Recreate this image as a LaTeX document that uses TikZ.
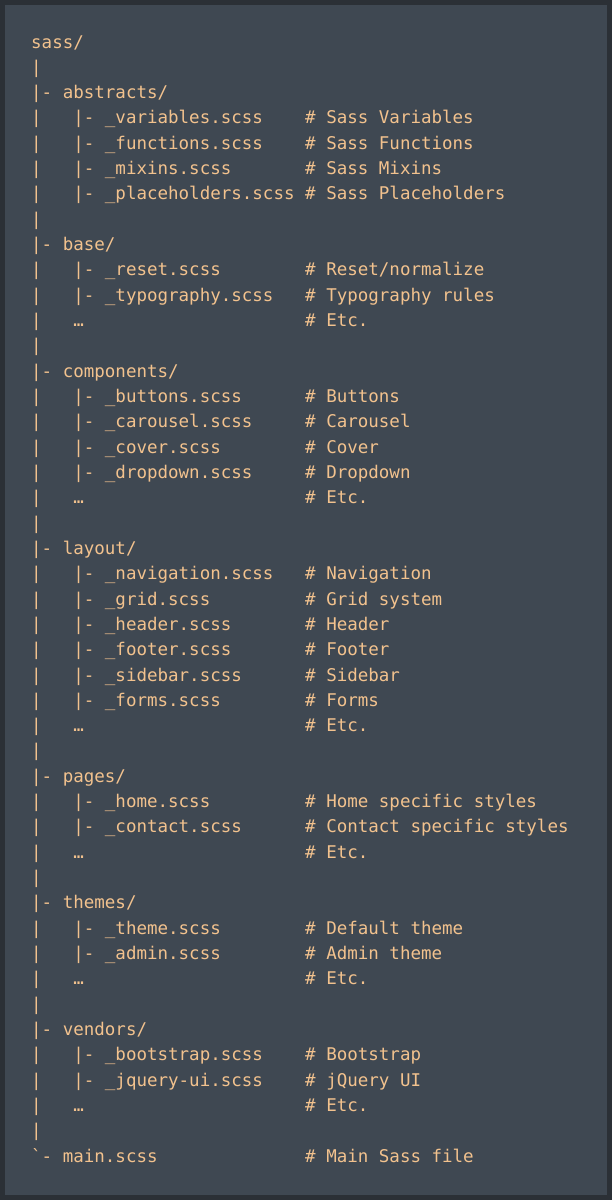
\documentclass[tikz,border=0pt]{standalone}
\usepackage{fontspec}
\setmonofont{DejaVu Sans Mono}
\definecolor{bgc}{HTML}{3F4852}
\definecolor{bdc}{HTML}{2B3036}
\definecolor{txc}{HTML}{F2C28E}
\begin{document}
\begin{tikzpicture}[x=1bp,y=-1bp,
  codeline/.style={anchor=base west,inner sep=0pt,text=txc,font=\ttfamily\fontsize{17.5bp}{20bp}\selectfont}]
\fill[bdc] (0,0) rectangle (612,1200);
\fill[bgc] (5,5) rectangle (607,1195);
\useasboundingbox (0,0) rectangle (612,1200);
\foreach \i/\t/\c in {
1/sass\slash/,
2/|/,
3/|-~abstracts\slash/,
4/|~~~|-~\_variables.scss/\#~Sass~Variables,
5/|~~~|-~\_functions.scss/\#~Sass~Functions,
6/|~~~|-~\_mixins.scss/\#~Sass~Mixins,
7/|~~~|-~\_placeholders.scss/\#~Sass~Placeholders,
8/|/,
9/|-~base\slash/,
10/|~~~|-~\_reset.scss/\#~Reset\slash normalize,
11/|~~~|-~\_typography.scss/\#~Typography~rules,
12/|~~~…/\#~Etc.,
13/|/,
14/|-~components\slash/,
15/|~~~|-~\_buttons.scss/\#~Buttons,
16/|~~~|-~\_carousel.scss/\#~Carousel,
17/|~~~|-~\_cover.scss/\#~Cover,
18/|~~~|-~\_dropdown.scss/\#~Dropdown,
19/|~~~…/\#~Etc.,
20/|/,
21/|-~layout\slash/,
22/|~~~|-~\_navigation.scss/\#~Navigation,
23/|~~~|-~\_grid.scss/\#~Grid~system,
24/|~~~|-~\_header.scss/\#~Header,
25/|~~~|-~\_footer.scss/\#~Footer,
26/|~~~|-~\_sidebar.scss/\#~Sidebar,
27/|~~~|-~\_forms.scss/\#~Forms,
28/|~~~…/\#~Etc.,
29/|/,
30/|-~pages\slash/,
31/|~~~|-~\_home.scss/\#~Home~specific~styles,
32/|~~~|-~\_contact.scss/\#~Contact~specific~styles,
33/|~~~…/\#~Etc.,
34/|/,
35/|-~themes\slash/,
36/|~~~|-~\_theme.scss/\#~Default~theme,
37/|~~~|-~\_admin.scss/\#~Admin~theme,
38/|~~~…/\#~Etc.,
39/|/,
40/|-~vendors\slash/,
41/|~~~|-~\_bootstrap.scss/\#~Bootstrap,
42/|~~~|-~\_jquery-ui.scss/\#~jQuery~UI,
43/|~~~…/\#~Etc.,
44/|/,
45/\char`\`-~main.scss/\#~Main~Sass~file}
{
  \node[codeline] (l\i) at (31,{48+(\i-1)*25.32}) {\t};
  \node[codeline] (c\i) at (305,{48+(\i-1)*25.32}) {\c};
}
\end{tikzpicture}
\end{document}
